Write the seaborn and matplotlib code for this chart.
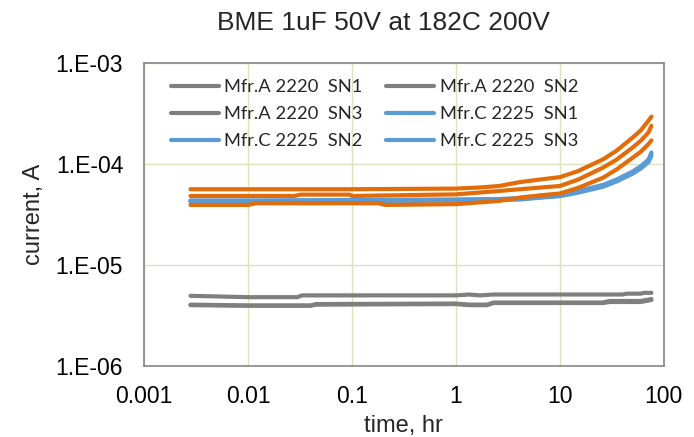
import numpy as np
import pandas as pd
import matplotlib
matplotlib.use("Agg")
import matplotlib.pyplot as plt
import seaborn as sns
from matplotlib.ticker import LogLocator, NullFormatter
from matplotlib.lines import Line2D

# ---------------- data ----------------
title = "BME 1uF 50V at 182C 200V"
x_label = "time, hr"
y_label = "current, A"
x_ticks = [0.001, 0.01, 0.1, 1, 10, 100]
x_tick_labels = ["0.001", "0.01", "0.1", "1", "10", "100"]
y_ticks = [1e-6, 1e-5, 1e-4, 1e-3]
y_tick_labels = ["1.E-06", "1.E-05", "1.E-04", "1.E-03"]

# Mfr.A 2220 (grey)
a_sn1_t = [0.0028, 0.01, 0.03, 0.033, 1.0, 1.35, 1.7, 2.3, 40, 44, 60, 65, 76]
a_sn1_i = [4.95e-6, 4.8e-6, 4.8e-6, 5.0e-6, 5.0e-6, 5.1e-6, 5.0e-6, 5.1e-6, 5.1e-6, 5.2e-6, 5.2e-6, 5.3e-6, 5.3e-6]
a_sn2_t = [0.0028, 0.01, 0.04, 0.045, 1.0, 1.35, 2.0, 2.3, 26, 30, 60, 76]
a_sn2_i = [4.05e-6, 3.97e-6, 3.97e-6, 4.1e-6, 4.15e-6, 4.05e-6, 4.05e-6, 4.25e-6, 4.25e-6, 4.4e-6, 4.4e-6, 4.6e-6]
a_sn3_t = [0.0028, 0.01, 0.04, 0.045, 1.0, 1.35, 2.0, 2.3, 26, 30, 60, 76]
a_sn3_i = [4.0e-6, 3.95e-6, 3.95e-6, 4.05e-6, 4.1e-6, 4.0e-6, 4.0e-6, 4.2e-6, 4.2e-6, 4.3e-6, 4.3e-6, 4.5e-6]

# Mfr.C 2225 (blue)
c_t = [0.0028, 0.01, 0.1, 1.0, 2.6, 4.1, 6, 10, 15, 26, 35, 50, 60, 71, 76]
c_sn1_i = [4.2e-5, 4.2e-5, 4.25e-5, 4.35e-5, 4.4e-5, 4.45e-5, 4.6e-5, 4.8e-5, 5.2e-5, 5.95e-5, 6.7e-5, 8.0e-5, 9.0e-5, 1.04e-4, 1.2e-4]
c_sn2_i = [4.3e-5, 4.3e-5, 4.3e-5, 4.4e-5, 4.45e-5, 4.5e-5, 4.65e-5, 4.85e-5, 5.3e-5, 6.05e-5, 6.8e-5, 8.2e-5, 9.2e-5, 1.07e-4, 1.25e-4]
c_sn3_i = [4.35e-5, 4.35e-5, 4.4e-5, 4.45e-5, 4.5e-5, 4.6e-5, 4.75e-5, 4.95e-5, 5.4e-5, 6.2e-5, 7.0e-5, 8.4e-5, 9.5e-5, 1.1e-4, 1.3e-4]

# orange series (not listed in the legend)
o1_t = [0.0028, 0.1, 1.0, 1.7, 2.6, 4.1, 6, 10, 15, 26, 35, 50, 60, 71, 76]
o1_i = [5.62e-5, 5.62e-5, 5.7e-5, 5.85e-5, 6.05e-5, 6.6e-5, 6.95e-5, 7.4e-5, 8.5e-5, 1.11e-4, 1.35e-4, 1.82e-4, 2.15e-4, 2.67e-4, 2.94e-4]
o2_t = [0.0028, 0.028, 0.032, 0.095, 0.1, 1.0, 2.6, 4.1, 6, 10, 15, 26, 35, 50, 60, 71, 76]
o2_i = [4.82e-5, 4.82e-5, 4.97e-5, 4.97e-5, 4.82e-5, 5.0e-5, 5.4e-5, 5.62e-5, 5.8e-5, 6.05e-5, 7.0e-5, 9.2e-5, 1.1e-4, 1.45e-4, 1.7e-4, 2.04e-4, 2.38e-4]
o3_t = [0.0028, 0.01, 0.012, 0.18, 0.21, 1.0, 2.6, 4.1, 6, 10, 15, 26, 35, 50, 60, 71, 76]
o3_i = [3.93e-5, 3.93e-5, 4.08e-5, 4.08e-5, 3.93e-5, 4.0e-5, 4.3e-5, 4.64e-5, 4.85e-5, 5.1e-5, 5.8e-5, 7.3e-5, 8.8e-5, 1.15e-4, 1.32e-4, 1.57e-4, 1.71e-4]

series = [
    ("Mfr.A 2220  SN1", a_sn1_t, a_sn1_i),
    ("Mfr.A 2220  SN2", a_sn2_t, a_sn2_i),
    ("Mfr.A 2220  SN3", a_sn3_t, a_sn3_i),
    ("Mfr.C 2225  SN1", c_t, c_sn1_i),
    ("Mfr.C 2225  SN2", c_t, c_sn2_i),
    ("Mfr.C 2225  SN3", c_t, c_sn3_i),
    ("_o1", o1_t, o1_i),
    ("_o2", o2_t, o2_i),
    ("_o3", o3_t, o3_i),
]

grey = "#7f7f7f"
blue = "#5b9bd5"
orange = "#e36c0a"
palette = {
    "Mfr.A 2220  SN1": grey, "Mfr.A 2220  SN2": grey, "Mfr.A 2220  SN3": grey,
    "Mfr.C 2225  SN1": blue, "Mfr.C 2225  SN2": blue, "Mfr.C 2225  SN3": blue,
    "_o1": orange, "_o2": orange, "_o3": orange,
}

rows = []
for name, t, i in series:
    for tt, ii in zip(t, i):
        rows.append({"series": name, "time": tt, "current": ii})
df = pd.DataFrame(rows)

# ---------------- plot ----------------
sns.set_theme(style="white")
plt.rcParams["font.family"] = ["Liberation Sans", "DejaVu Sans"]

fig = plt.figure(figsize=(6.94, 4.37), dpi=100)
ax = fig.add_axes([0.2075, 0.1625, 0.749, 0.6935])

sns.lineplot(data=df, x="time", y="current", hue="series", palette=palette,
             hue_order=[s[0] for s in series], estimator=None, sort=False,
             linewidth=3.0, ax=ax, legend=False)

ax.set_xscale("log")
ax.set_yscale("log")
ax.set_xlim(0.001, 100)
ax.set_ylim(1e-6, 1e-3)

ax.set_xticks(x_ticks)
ax.set_xticklabels(x_tick_labels)
ax.set_yticks(y_ticks)
ax.set_yticklabels(y_tick_labels)
ax.xaxis.set_minor_locator(LogLocator(base=10, subs=np.arange(2, 10), numticks=20))
ax.yaxis.set_minor_locator(LogLocator(base=10, subs=np.arange(2, 10), numticks=20))
ax.xaxis.set_minor_formatter(NullFormatter())
ax.yaxis.set_minor_formatter(NullFormatter())

ax.tick_params(axis="both", which="major", direction="in", length=6, width=1,
               color="#868686", labelsize=16.5, labelcolor="black")
ax.tick_params(axis="both", which="minor", direction="in", length=4, width=1,
               color="#868686")
ax.tick_params(axis="y", which="major", pad=15)
ax.tick_params(axis="x", which="major", pad=14)

ax.grid(True, which="major", color="#d7e4bd", linewidth=1.0)
ax.set_axisbelow(True)
for sp in ax.spines.values():
    sp.set_color("#868686")
    sp.set_linewidth(1.2)

ax.set_xlabel(x_label, fontsize=17, labelpad=5)
ax.set_ylabel(y_label, fontsize=17, labelpad=8)
fig.suptitle(title, fontsize=19, x=0.552, y=0.975)

# legend (only the six named series), filled row by row as in the reference
names = [s[0] for s in series[:6]]
order = [0, 2, 4, 1, 3, 5]
handles = [Line2D([0], [0], color=palette[names[k]], linewidth=3.0) for k in order]
labels = [names[k] for k in order]
leg = ax.legend(handles, labels, ncol=2, frameon=False, loc="upper left",
                bbox_to_anchor=(0.02, 1.0), handlelength=2.6, handletextpad=0.3,
                columnspacing=1.3, labelspacing=0.6,
                prop={"family": ["Lato", "DejaVu Sans"], "size": 13.2})

fig.savefig("out.png", dpi=100)
